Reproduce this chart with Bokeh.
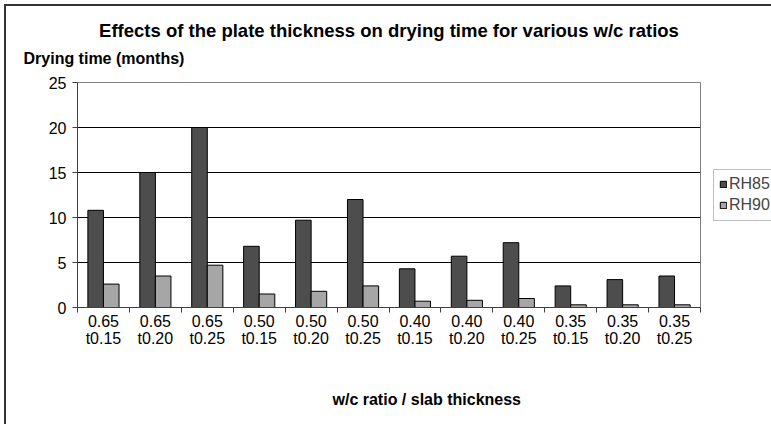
from bokeh.plotting import figure
from bokeh.models import (Range1d, LinearAxis, FixedTicker, Title,
                          ColumnDataSource, Legend, LegendItem)
from bokeh.transform import dodge
from bokeh.embed import file_html
from bokeh.resources import INLINE

# ---- data ----
wc_ratios = ["0.65", "0.65", "0.65", "0.50", "0.50", "0.50",
             "0.40", "0.40", "0.40", "0.35", "0.35", "0.35"]
thicknesses = ["t0.15", "t0.20", "t0.25"] * 4
rh85 = [10.8, 15.0, 20.0, 6.8, 9.7, 12.0, 4.3, 5.7, 7.2, 2.4, 3.1, 3.5]
rh90 = [2.6, 3.5, 4.7, 1.5, 1.8, 2.4, 0.7, 0.8, 1.0, 0.3, 0.3, 0.3]
series_names = ["RH85", "RH90"]
y_ticks = [0, 5, 10, 15, 20, 25]

title_text = "Effects of the plate thickness on drying time for various w/c ratios"
y_title = "Drying time (months)"
x_title = "w/c ratio / slab thickness"

FONT = "Liberation Sans"
DARK = "#4d4d4d"
LIGHT = "#a6a6a6"
AXIS = "#404040"

n = len(wc_ratios)
categories = [f"{w}\n{t}" for w, t in zip(wc_ratios, thicknesses)]
slot = [i + 0.5 for i in range(n)]          # category slot centres
source = ColumnDataSource(dict(slot=slot, rh85=rh85, rh90=rh90))

p = figure(frame_width=623, frame_height=225,
           x_range=Range1d(0, n),
           y_range=Range1d(y_ticks[0], y_ticks[-1]),
           output_backend="svg", toolbar_location=None,
           x_axis_location=None,
           min_border_left=71, min_border_right=59,
           min_border_top=76, min_border_bottom=117)
p.margin = (4, 0, 0, 4)
p.styles = {"border-left": "2px solid #333333", "border-top": "2px solid #333333"}
p.background_fill_color = "white"
p.border_fill_color = "white"
p.outline_line_color = "#808080"
p.outline_line_width = 1

# title (outermost) and y-axis caption under it
p.title.text = title_text
p.title.align = "center"
p.title.text_font = FONT
p.title.text_font_size = "18.5px"
p.title.text_font_style = "bold"
p.title.text_color = "black"
p.title.standoff = -16

ytitle = Title(text=y_title, align="left", offset=-54, standoff=31,
               text_font=FONT, text_font_size="16px", text_font_style="bold",
               text_color="black")
p.add_layout(ytitle, "above")

# bars
r1 = p.vbar(x=dodge("slot", -0.15), top="rh85", width=0.3,
            source=source, fill_color=DARK, line_color="black", line_width=1)
r2 = p.vbar(x=dodge("slot", 0.15), top="rh90", width=0.3,
            source=source, fill_color=LIGHT, line_color="black", line_width=1)

# y axis
yax = p.yaxis[0]
yax.ticker = FixedTicker(ticks=y_ticks)
yax.major_tick_out = 5
yax.major_tick_in = 0
yax.minor_tick_out = 0
yax.minor_tick_in = 0
yax.axis_line_color = AXIS
yax.major_tick_line_color = AXIS
yax.major_label_standoff = 6
yax.major_label_text_font = FONT
yax.major_label_text_font_size = "16px"
yax.major_label_text_color = "black"

# grid
p.xgrid.visible = False
p.ygrid.ticker = FixedTicker(ticks=y_ticks[1:-1])
p.ygrid.grid_line_color = "black"
p.ygrid.grid_line_width = 1

# bottom axis: ticks at category boundaries
tick_axis = LinearAxis(ticker=FixedTicker(ticks=list(range(n + 1))),
                       major_tick_out=5, major_tick_in=0,
                       minor_tick_out=0, minor_tick_in=0,
                       major_label_text_font_size="1px", major_label_standoff=0,
                       major_label_text_color=None,
                       axis_line_color=AXIS, major_tick_line_color=AXIS)
p.add_layout(tick_axis, "below")
# category labels at slot centres
label_axis = LinearAxis(ticker=FixedTicker(ticks=slot),
                        major_label_overrides={s: c for s, c in zip(slot, categories)},
                        axis_line_color=None, major_tick_line_color=None,
                        minor_tick_line_color=None,
                        major_label_standoff=-6,
                        major_label_text_font=FONT,
                        major_label_text_font_size="16px",
                        major_label_text_color="black",
                        major_label_text_line_height=1.02)
p.add_layout(label_axis, "below")

xtitle = Title(text=x_title, align="left", offset=255, standoff=78,
               text_font=FONT, text_font_size="16px", text_font_style="bold",
               text_color="black")
p.add_layout(xtitle, "below")

# legend
legend = Legend(items=[LegendItem(label=series_names[0], renderers=[r1]),
                       LegendItem(label=series_names[1], renderers=[r2])],
                location="center_left", orientation="vertical",
                glyph_width=8, glyph_height=8, label_standoff=2,
                label_height=19, spacing=2, padding=5, margin=13,
                label_text_font=FONT, label_text_font_size="16px",
                border_line_color="#808080", border_line_width=1,
                background_fill_color="white", background_fill_alpha=1)
p.add_layout(legend, "right")

with open("out.html", "w") as f:
    f.write(file_html(p, INLINE))
